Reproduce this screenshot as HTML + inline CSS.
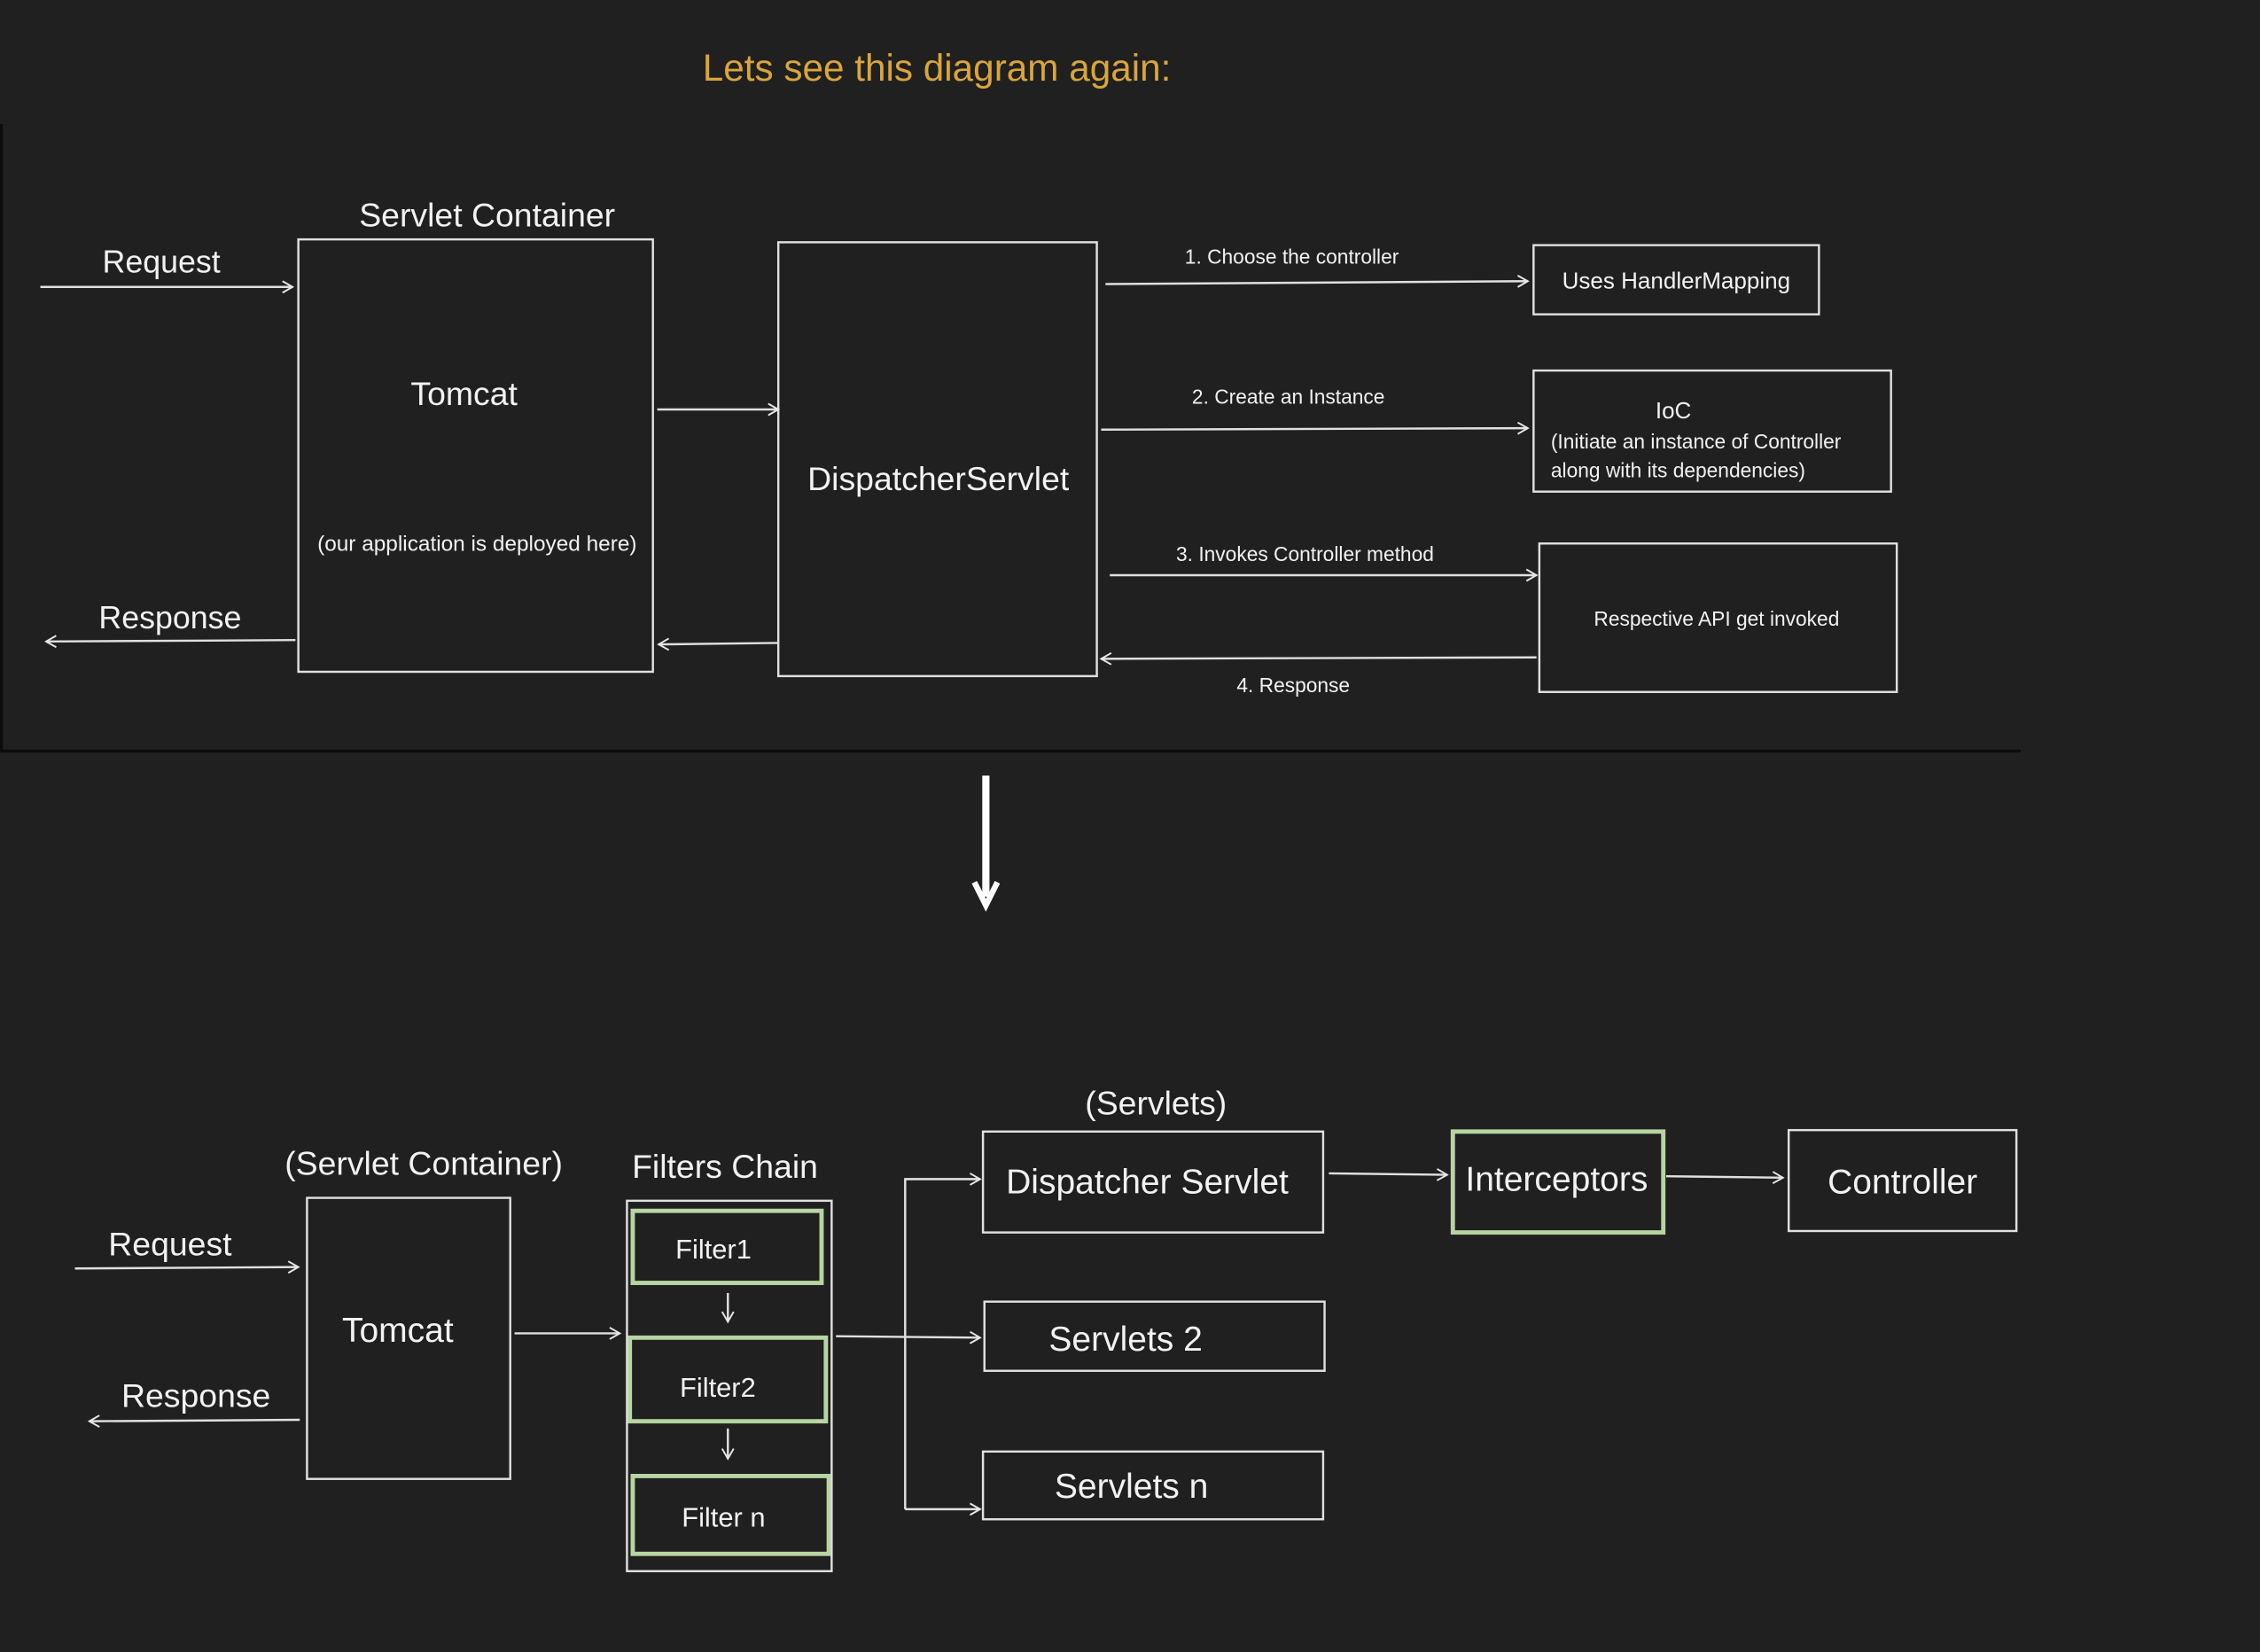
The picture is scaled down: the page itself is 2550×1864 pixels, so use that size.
<!DOCTYPE html>
<html><head><meta charset="utf-8"><style>
html,body{margin:0;padding:0;background:#202020;}
svg{display:block;}
text{font-family:"Liberation Sans",sans-serif;fill:#f2f2f2;}
</style></head><body>
<svg width="2550" height="1864" viewBox="0 0 1568 1146" xmlns="http://www.w3.org/2000/svg">
<defs>
<marker id="a" markerWidth="10" markerHeight="10" refX="8" refY="5" orient="auto" markerUnits="userSpaceOnUse">
<path d="M1,1 L8,5 L1,9" fill="none" stroke="#e8e8e8" stroke-width="1.2"/></marker>
</defs>
<rect width="1568" height="1146" fill="#202020"/>
<text x="650" y="56" font-size="26" text-anchor="middle" style="fill:#d9a53c">Lets see this diagram again:</text>
<line x1="1" y1="86" x2="1" y2="521" stroke="#0c0c0c" stroke-width="2"/>
<line x1="0" y1="521" x2="1402" y2="521" stroke="#0c0c0c" stroke-width="2"/>
<g stroke="#e0e0e0" stroke-width="1.5" fill="none">
<rect x="207" y="166" width="246" height="300"/>
<rect x="540" y="168" width="221" height="301"/>
<rect x="1064" y="170" width="198" height="48"/>
<rect x="1064" y="257" width="248" height="84"/>
<rect x="1068" y="377" width="248" height="103"/>
<line x1="28" y1="199" x2="203" y2="199" marker-end="url(#a)"/>
<line x1="205" y1="444" x2="32" y2="445" marker-end="url(#a)"/>
<line x1="456" y1="284" x2="540" y2="284" marker-end="url(#a)"/>
<line x1="540" y1="446" x2="457" y2="447" marker-end="url(#a)"/>
<line x1="767" y1="197" x2="1060" y2="195" marker-end="url(#a)"/>
<line x1="764" y1="298" x2="1060" y2="297" marker-end="url(#a)"/>
<line x1="770" y1="399" x2="1066" y2="399" marker-end="url(#a)"/>
<line x1="1066" y1="456" x2="764" y2="457" marker-end="url(#a)"/>
</g>
<text x="112" y="189" font-size="22" text-anchor="middle">Request</text>
<text x="118" y="436" font-size="22" text-anchor="middle">Response</text>
<text x="338" y="157" font-size="23" text-anchor="middle">Servlet Container</text>
<text x="322" y="281" font-size="23" text-anchor="middle">Tomcat</text>
<text x="331" y="382" font-size="15" text-anchor="middle">(our application is deployed here)</text>
<text x="651" y="340" font-size="23" text-anchor="middle">DispatcherServlet</text>
<text x="822" y="183" font-size="14">1.  Choose the controller</text>
<text x="827" y="280" font-size="14">2.  Create an Instance</text>
<text x="816" y="389" font-size="14">3.  Invokes Controller method</text>
<text x="858" y="480" font-size="14">4.  Response</text>
<text x="1163" y="200" font-size="16" text-anchor="middle">Uses HandlerMapping</text>
<text x="1161" y="290" font-size="16" text-anchor="middle">IoC</text>
<text x="1076" y="311" font-size="14">(Initiate an instance of Controller</text>
<text x="1076" y="331" font-size="14">along with its dependencies)</text>
<text x="1191" y="434" font-size="14" text-anchor="middle">Respective API get invoked</text>
<line x1="684" y1="538" x2="684" y2="622" stroke="#ffffff" stroke-width="5"/>
<path d="M676,612 L684,628 L692,612" fill="none" stroke="#ffffff" stroke-width="4"/>
<g stroke="#e0e0e0" stroke-width="1.5" fill="none">
<rect x="213" y="831" width="141" height="195"/>
<rect x="435" y="833" width="142" height="257"/>
<rect x="682" y="785" width="236" height="70"/>
<rect x="683" y="903" width="236" height="48"/>
<rect x="682" y="1007" width="236" height="47"/>
<rect x="1241" y="784" width="158" height="70"/>
<line x1="52" y1="880" x2="207" y2="879" marker-end="url(#a)"/>
<line x1="208" y1="985" x2="62" y2="986" marker-end="url(#a)"/>
<line x1="357" y1="925" x2="430" y2="925" marker-end="url(#a)"/>
<line x1="580" y1="927" x2="680" y2="928" marker-end="url(#a)"/>
<polyline points="628,1047 628,818 680,818"/>
<line x1="628" y1="1047" x2="680" y2="1047" marker-end="url(#a)"/>
<line x1="628" y1="818" x2="680" y2="818" marker-end="url(#a)"/>
<line x1="922" y1="814" x2="1004" y2="815" marker-end="url(#a)"/>
<line x1="1156" y1="816" x2="1237" y2="817" marker-end="url(#a)"/>
<line x1="505" y1="897" x2="505" y2="917" marker-end="url(#a)"/>
<line x1="505" y1="991" x2="505" y2="1012" marker-end="url(#a)"/>
</g>
<g stroke="#b7d5a2" stroke-width="3" fill="none">
<rect x="439" y="840" width="131" height="50"/>
<rect x="437" y="928" width="136" height="58"/>
<rect x="439" y="1024" width="136" height="54"/>
<rect x="1008" y="785" width="146" height="70"/>
</g>
<text x="118" y="871" font-size="23" text-anchor="middle">Request</text>
<text x="136" y="976" font-size="23" text-anchor="middle">Response</text>
<text x="294" y="815" font-size="23" text-anchor="middle">(Servlet Container)</text>
<text x="276" y="931" font-size="24" text-anchor="middle">Tomcat</text>
<text x="503" y="817" font-size="23" text-anchor="middle">Filters Chain</text>
<text x="495" y="873" font-size="19" text-anchor="middle">Filter1</text>
<text x="498" y="969" font-size="19" text-anchor="middle">Filter2</text>
<text x="502" y="1059" font-size="19" text-anchor="middle">Filter n</text>
<text x="802" y="773" font-size="23" text-anchor="middle">(Servlets)</text>
<text x="796" y="828" font-size="24" text-anchor="middle">Dispatcher Servlet</text>
<text x="781" y="937" font-size="24" text-anchor="middle">Servlets 2</text>
<text x="785" y="1039" font-size="24" text-anchor="middle">Servlets n</text>
<text x="1080" y="826" font-size="24" text-anchor="middle">Interceptors</text>
<text x="1320" y="828" font-size="24" text-anchor="middle">Controller</text>
</svg>
</body></html>
